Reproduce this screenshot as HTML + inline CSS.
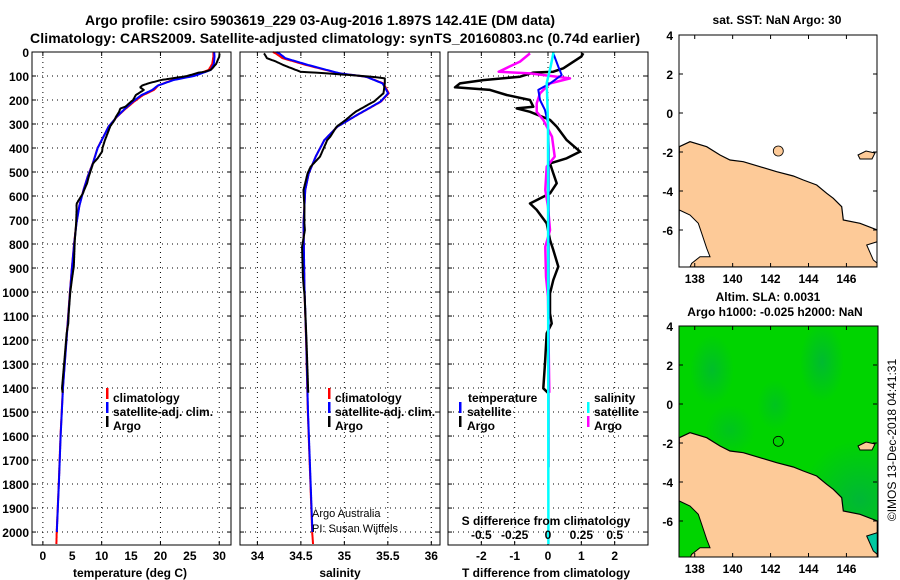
<!DOCTYPE html>
<html><head><meta charset="utf-8"><style>
html,body{margin:0;padding:0;background:#fff}
svg{display:block}
text{font-family:"Liberation Sans",Arial,sans-serif;fill:#000}
.b{font-weight:bold}
</style></head><body>
<svg id="fig" width="900" height="580" viewBox="0 0 900 580" xmlns="http://www.w3.org/2000/svg">
<defs>
<radialGradient id="dg" cx="50%" cy="50%" r="50%"><stop offset="0" stop-color="#00b43c"/><stop offset="1" stop-color="#00b43c" stop-opacity="0"/></radialGradient>
<clipPath id="m1c"><rect x="679" y="35" width="198" height="232"/></clipPath>
<clipPath id="m2c"><rect x="679" y="326" width="199" height="231"/></clipPath>
</defs>
<text class="b" x="320" y="25" text-anchor="middle" font-size="14">Argo profile: csiro 5903619_229 03-Aug-2016 1.897S 142.41E (DM data)</text>
<text class="b" x="335" y="43" text-anchor="middle" font-size="14" textLength="610">Climatology: CARS2009. Satellite-adjusted climatology: synTS_20160803.nc (0.74d earlier)</text>

<!-- top map -->
<g>
<text class="b" x="777" y="24" text-anchor="middle" font-size="12">sat. SST: NaN Argo: 30</text>
<rect x="679" y="35" width="198" height="232" fill="#fff"/>
<g clip-path="url(#m1c)">
<polygon points="679.3,146.7 690,141.7 706.7,146.7 720,155 730,160 743.3,161.7 760,166.7 776.7,171.7 793.3,176 803.3,180 816.7,185 826.7,193.3 833.3,198.3 841.7,206.7 843.3,220 860,223.3 877.3,230 877.3,267 679,267" fill="#fdca98" stroke="#000" stroke-width="1.2"/>
<polygon points="679.3,210 690,215 698.3,223.3 701.7,233.3 706.7,248.3 710,256.7 700,256.7 691.7,263.3 690,267 679,267" fill="#fff" stroke="#000" stroke-width="1"/>
<polygon points="866.7,245 877.3,241.7 877.3,263.3 873.3,260" fill="#fff" stroke="#000" stroke-width="1"/>
<polygon points="858,155 866,151 875,153 872,159 860,159" fill="#fdca98" stroke="#000" stroke-width="1"/>
</g>
<circle cx="778.3" cy="151" r="5" fill="#fdca98" stroke="#000" stroke-width="0.8"/>
<rect x="679" y="35" width="198" height="232" fill="none" stroke="#000"/>
</g>
<g>
<text class="b" x="768" y="301" text-anchor="middle" font-size="12">Altim. SLA: 0.0031</text>
<text class="b" x="775" y="316" text-anchor="middle" font-size="12">Argo h1000: -0.025 h2000: NaN</text>
<rect x="679" y="326" width="199" height="231" fill="#00d400"/>
<g clip-path="url(#m2c)">
<ellipse cx="712" cy="370" rx="22" ry="35" fill="url(#dg)" opacity="0.7"/>
<ellipse cx="822" cy="362" rx="22" ry="40" fill="url(#dg)" opacity="0.8"/>
<ellipse cx="775" cy="405" rx="18" ry="25" fill="url(#dg)" opacity="0.5"/>
<ellipse cx="730" cy="430" rx="25" ry="25" fill="url(#dg)" opacity="0.5"/>
<ellipse cx="860" cy="500" rx="60" ry="60" fill="url(#dg)" opacity="0.9"/>
<g transform="translate(0,291)">
<polygon points="679.3,146.7 690,141.7 706.7,146.7 720,155 730,160 743.3,161.7 760,166.7 776.7,171.7 793.3,176 803.3,180 816.7,185 826.7,193.3 833.3,198.3 841.7,206.7 843.3,220 860,223.3 877.3,230 877.3,267 679,267" fill="#fdca98" stroke="#000" stroke-width="1.2"/>
<polygon points="679.3,210 690,215 698.3,223.3 701.7,233.3 706.7,248.3 710,256.7 700,256.7 691.7,263.3 690,267 679,267" fill="#00d400" stroke="#000" stroke-width="1"/>
<polygon points="866.7,245 877.3,241.7 877.3,263.3 873.3,260" fill="#00c8a0" stroke="#000" stroke-width="1"/>
<polygon points="858,155 866,151 875,153 872,159 860,159" fill="#fdca98" stroke="#000" stroke-width="1"/>
</g>
</g>
<circle cx="778.3" cy="441.3" r="5" fill="none" stroke="#000" stroke-width="0.8"/>
<rect x="679" y="326" width="199" height="231" fill="none" stroke="#000"/>
</g>
<text x="896" y="440" text-anchor="middle" font-size="12" transform="rotate(-90 896 440)">©IMOS 13-Dec-2018 04:41:31</text>
<g id="plots"></g>
</svg>
<script>
// ---- data ----
const climDepth = [0,20,50,75,90,100,117,140,158,180,207,240,270,310,353,400,463,520,575,640,713,800,908,1000,1200,1400,1600,1800,2000,2050];
const climTemp  = [29.0,29.0,28.8,28.2,26.5,25.3,22.0,19.6,18.9,17.0,15.5,13.9,12.6,11.2,10.3,9.3,8.5,7.6,6.9,6.2,5.7,5.3,4.9,4.6,4.0,3.4,3.0,2.7,2.35,2.3];
const climSDepth = [0,8,26,54,89,103,131,172,207,262,311,367,436,506,575,714,978,1200,1500,1800,2000,2050];
const climSal    = [34.18,34.22,34.29,34.56,34.94,35.25,35.45,35.51,35.42,35.15,34.92,34.77,34.67,34.59,34.55,34.53,34.54,34.56,34.58,34.61,34.63,34.64];
const argoTDiffDepth = [5,19,68,82,86,103,117,131,147,158,179,200,228,235,249,283,311,367,415,443,464,506,547,589,631,658,714,783,825,894,950,1006,1089,1131,1172,1297,1401,1420];
const argoTDiff      = [1.06,1.0,0.46,0.16,-0.44,-0.84,-1.94,-2.64,-2.79,-1.74,-1.24,-0.54,-0.44,-0.94,-0.54,0.06,0.26,0.56,0.96,0.56,0.06,0.16,0.26,0.06,-0.54,-0.34,-0.04,0.06,0.16,0.31,0.16,0.06,0.06,0.11,-0.04,-0.09,-0.14,0.0];
const argoSDiffDepth = [6,40,82,89,110,131,172,214,249,283,353,436,478,575,644,742,811,936,1019,1420];
const argoSDiff      = [-0.135,-0.21,-0.37,-0.135,0.165,0.015,-0.06,-0.085,-0.085,-0.035,0.03,0.05,-0.01,-0.02,0.0,0.015,-0.02,-0.015,0.0,0.01];
const satTDiffDepth = [0,6,61,96,131,158,200,242,297,400,800,1200,1730];
const satTDiff      = [0.15,0.16,0.31,0.41,0.06,-0.29,-0.24,-0.09,0.0,0.02,0.02,0.02,0.02];
const satSDiffDepth = [0,6,60,130,200,297,2050];
const satSDiff      = [0.04,0.04,0.02,-0.01,-0.005,0.0,0.003];
const depthTicks = [0,100,200,300,400,500,600,700,800,900,1000,1100,1200,1300,1400,1500,1600,1700,1800,1900,2000];
const tempTicks = [0,5,10,15,20,25,30];
const salTicks = [34,34.5,35,35.5,36];
const salTickLabels = ["34","34.5","35","35.5","36"];
const tdTicks = [-2,-1,0,1,2];
const sdTicks = [-0.5,-0.25,0,0.25,0.5];
const sdTickLabels = ["-0.5","-0.25","0","0.25","0.5"];

// ---- helpers ----
const NS='http://www.w3.org/2000/svg';
const root=document.getElementById('plots');
function mk(tag,attrs,parent){const e=document.createElementNS(NS,tag);for(const k in attrs)e.setAttribute(k,attrs[k]);(parent||root).appendChild(e);return e;}
function interp(xs,ys,x){if(x<=xs[0])return ys[0];for(let i=1;i<xs.length;i++){if(x<=xs[i]){const t=(x-xs[i-1])/(xs[i]-xs[i-1]);return ys[i-1]+t*(ys[i]-ys[i-1]);}}return ys[ys.length-1];}
const yTop=52,yBot=545;
function yS(d){return yTop+d*(yBot-yTop)/2054;}
function xScale(x0,x1,d0,d1){return v=>x0+(v-d0)*(x1-x0)/(d1-d0);}
function line(pts,sx,color,w,name,g){const d=pts.map((p,i)=>(i?'L':'M')+sx(p[0]).toFixed(1)+','+yS(p[1]).toFixed(1)).join('');const e=mk('path',{d:d,fill:'none',stroke:color,'stroke-width':w,'stroke-linejoin':'round'},g);


return e;}
function grid(g,x0,x1,sx,vticks){
 depthTicks.forEach(d=>{if(d>0){const l=mk('line',{x1:x0,x2:x1,y1:yS(d),y2:yS(d),stroke:'#000','stroke-width':1,'stroke-dasharray':'1,4'},g);
 
 
 mk('line',{x1:x0,x2:x0+4,y1:yS(d),y2:yS(d),stroke:'#000'},g);mk('line',{x1:x1-4,x2:x1,y1:yS(d),y2:yS(d),stroke:'#000'},g);}});
 vticks.forEach(v=>{const l=mk('line',{x1:sx(v),x2:sx(v),y1:yTop,y2:yBot,stroke:'#000','stroke-dasharray':'1,4'},g);
 
 
 mk('line',{x1:sx(v),x2:sx(v),y1:yBot-4,y2:yBot,stroke:'#000'},g);mk('line',{x1:sx(v),x2:sx(v),y1:yTop,y2:yTop+4,stroke:'#000'},g);});
}
function frame(g,x0,x1,name){const r=mk('rect',{x:x0,y:yTop,width:x1-x0,height:yBot-yTop,fill:'none',stroke:'#000','stroke-width':1},g);

}
function txt(g,x,y,s,size,anchor,bold,name){const t=mk('text',{x:x,y:y,'font-size':size,'text-anchor':anchor||'start'},g);if(bold)t.setAttribute('class','b');t.textContent=s;


return t;}
function legendMark(g,x,y,color,name){const r=mk('rect',{x:x,y:y-10,width:2.5,height:11,fill:color},g);

}

// profiles on fine grid
function profile(d0,d1,f){const p=[];for(let d=d0;d<=d1;d+=2)p.push([f(d),d]);return p;}

// ---- panel 1: temperature ----
const g1=mk('g',{});


const sxT=xScale(32,231,-1.85,32.0);
grid(g1,32,231,sxT,[0,10,20,30]);
line(profile(0,2050,d=>interp(climDepth,climTemp,d)),sxT,'#f00',2,'temperature-climatology-line',g1);
line(profile(0,2000,d=>interp(climDepth,climTemp,d)+interp(satTDiffDepth,satTDiff,d)),sxT,'#00f',2,'temperature-satellite-line',g1);
line(profile(6,1420,d=>interp(climDepth,climTemp,d)+interp(argoTDiffDepth,argoTDiff,d)),sxT,'#000',2,'temperature-argo-line',g1);
frame(g1,32,231,'temperature-plot-frame');
depthTicks.forEach(d=>txt(g1,29,yS(d)+5,String(d),12,'end',true,'depth-tick-label'));
tempTicks.forEach(v=>txt(g1,sxT(v),560,String(v),12,'middle',true,'temperature-tick-label'));
txt(g1,130,577,'temperature (deg C)',12,'middle',true,'temperature-axis-title');
legendMark(g1,106,398,'#f00','legend-climatology-marker');txt(g1,113,402,'climatology',12,'start',true,'legend-climatology');
legendMark(g1,106,412,'#00f','legend-satellite-marker');txt(g1,113,416,'satellite-adj. clim.',12,'start',true,'legend-satellite');
legendMark(g1,106,426,'#000','legend-argo-marker');txt(g1,113,430,'Argo',12,'start',true,'legend-argo');

// ---- panel 2: salinity ----
const g2=mk('g',{});


const sxS=xScale(240,440,33.80,36.10);
grid(g2,240,440,sxS,salTicks);
line(profile(0,2050,d=>interp(climSDepth,climSal,d)),sxS,'#f00',2,'salinity-climatology-line',g2);
line(profile(0,2000,d=>interp(climSDepth,climSal,d)+interp(satSDiffDepth,satSDiff,d)),sxS,'#00f',2,'salinity-satellite-line',g2);
line(profile(6,1420,d=>interp(climSDepth,climSal,d)+interp(argoSDiffDepth,argoSDiff,d)),sxS,'#000',2,'salinity-argo-line',g2);
frame(g2,240,440,'salinity-plot-frame');
salTicks.forEach((v,i)=>txt(g2,sxS(v),560,salTickLabels[i],12,'middle',true,'salinity-tick-label'));
txt(g2,340,577,'salinity',12,'middle',true,'salinity-axis-title');
legendMark(g2,328,398,'#f00','legend-climatology-marker');txt(g2,335,402,'climatology',12,'start',true,'legend-climatology');
legendMark(g2,328,412,'#00f','legend-satellite-marker');txt(g2,335,416,'satellite-adj. clim.',12,'start',true,'legend-satellite');
legendMark(g2,328,426,'#000','legend-argo-marker');txt(g2,335,430,'Argo',12,'start',true,'legend-argo');
txt(g2,312,517,'Argo Australia',11,'start',false,'credit-argo-australia');
txt(g2,312,532,'PI: Susan Wijffels',11,'start',false,'credit-pi');

// ---- panel 3: differences ----
const g3=mk('g',{});


const sxD=xScale(448,648,-3,3);
const sxSD=v=>sxD(v*4);
grid(g3,448,648,sxD,tdTicks);
line(argoTDiffDepth.map((d,i)=>[argoTDiff[i],d]),sxD,'#000',2.5,'temperature-argo-difference-line',g3);
line(argoSDiffDepth.map((d,i)=>[argoSDiff[i],d]),sxSD,'#f0f',2.5,'salinity-argo-difference-line',g3);
line(satTDiffDepth.map((d,i)=>[satTDiff[i],d]),sxD,'#00f',2,'temperature-satellite-difference-line',g3);
line(satSDiffDepth.map((d,i)=>[satSDiff[i],d]),sxSD,'#0ff',2.5,'salinity-satellite-difference-line',g3);
frame(g3,448,648,'difference-plot-frame');
tdTicks.forEach(v=>txt(g3,sxD(v),560,String(v),12,'middle',true,'t-difference-tick-label'));
sdTicks.forEach((v,i)=>txt(g3,sxSD(v),539,sdTickLabels[i],12,'middle',true,'s-difference-tick-label'));
txt(g3,546,525,'S difference from climatology',12,'middle',true,'s-difference-axis-title');
txt(g3,546,577,'T difference from climatology',12,'middle',true,'t-difference-axis-title');
txt(g3,468,402,'temperature',12,'start',true,'legend-temperature-header');
legendMark(g3,459,412,'#00f','legend-t-satellite-marker');txt(g3,467,416,'satellite',12,'start',true,'legend-t-satellite');
legendMark(g3,459,426,'#000','legend-t-argo-marker');txt(g3,467,430,'Argo',12,'start',true,'legend-t-argo');
txt(g3,594,402,'salinity',12,'start',true,'legend-salinity-header');
legendMark(g3,587,412,'#0ff','legend-s-satellite-marker');txt(g3,594,416,'satellite',12,'start',true,'legend-s-satellite');
legendMark(g3,587,426,'#f0f','legend-s-argo-marker');txt(g3,594,430,'Argo',12,'start',true,'legend-s-argo');

// ---- map axes ----
const latTicks=[4,2,0,-2,-4,-6];
const lonTicks=[138,140,142,144,146];
function mapAxes(top,bottom,name){
 const g=mk('g',{});
 
 
 const ly=lat=>top+(4-lat)*19.5;
 const lx=lon=>679+(lon-137.17)*18.96;
 latTicks.forEach(v=>{txt(g,673,ly(v)+5,String(v),12,'end',true,'latitude-tick-label');
  mk('line',{x1:679,x2:683,y1:ly(v),y2:ly(v),stroke:'#000'},g);mk('line',{x1:873,x2:877,y1:ly(v),y2:ly(v),stroke:'#000'},g);});
 lonTicks.forEach(v=>{txt(g,lx(v),bottom+16,String(v),12,'middle',true,'longitude-tick-label');
  mk('line',{x1:lx(v),x2:lx(v),y1:top,y2:top+4,stroke:'#000'},g);mk('line',{x1:lx(v),x2:lx(v),y1:bottom-4,y2:bottom,stroke:'#000'},g);});
}
mapAxes(35,267,'sst-map-axes');
mapAxes(326,557,'sla-map-axes');
</script>
</body></html>
